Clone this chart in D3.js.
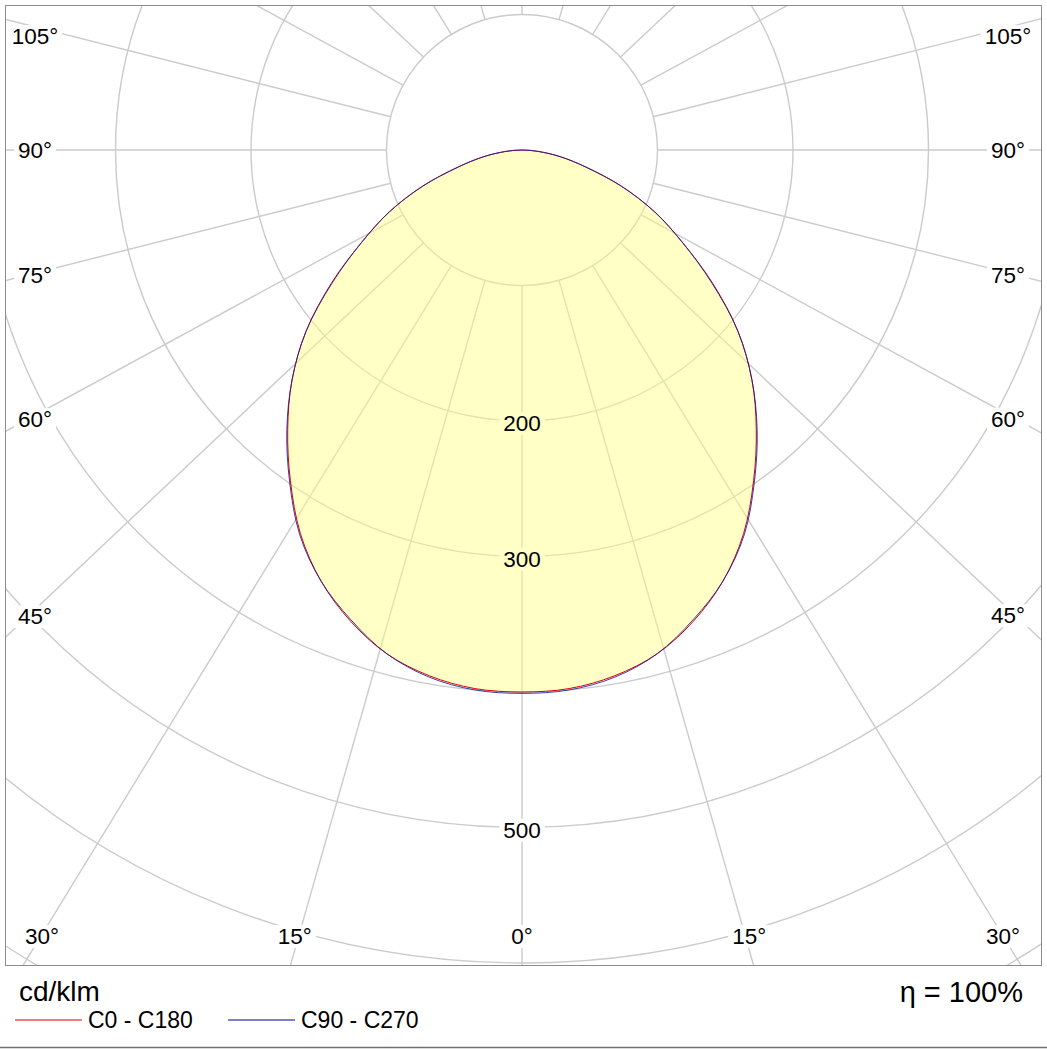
<!DOCTYPE html>
<html>
<head>
<meta charset="utf-8">
<script src="https://cdn.jsdelivr.net/npm/d3@7"></script>
<style>
  body { margin: 0; background: #fff; }
  svg { display: block; font-family: "Liberation Sans", Arial, sans-serif; }
</style>
</head>
<body>
<svg id="chart" width="1047" height="1049"></svg>
<script>
// gamma angles (deg from nadir) and intensities in cd/klm
var gammas = [0,5,10,15,20,25,30,35,40,45,50,55,60,65,70,75,80,85,90,
              95,100,105,110,115,120,125,130,135,140,145,150,155,160,165,170,175,180];
var c0c180 = [400,399,394,385,370,351,327,298,269,240,208,172,137,108,78,49,29,12,0,
              0,0,0,0,0,0,0,0,0,0,0,0,0,0,0,0,0,0];
var c90c270 = [401,400,395,385,369,351,328,299,270,240,208,171,137,108,78,49,29,12,0,
               0,0,0,0,0,0,0,0,0,0,0,0,0,0,0,0,0,0];

var circleTicks = [100,200,300,400,500,600,700];
var circleLabels = [200,300,500];
var rayAngles = [0,15,30,45,60,75,90,105,120,135,150,165,180];
var sideLabels = [45,60,75,90,105];
var bottomLabels = [0,15,30];

var W = 1047, H = 1049;
var frame = {x0: 5, y0: 5, x1: 1041, y1: 965};
var cx = 522, cy = 150;
var rayAspect = 1.06;  // spokes come out slightly wider than true angle

var svg = d3.select("#chart");
var r = d3.scaleLinear().domain([0,100]).range([0,135.5]);

svg.append("defs").append("clipPath").attr("id","frameclip")
  .append("rect").attr("x",frame.x0).attr("y",frame.y0)
  .attr("width",frame.x1-frame.x0).attr("height",frame.y1-frame.y0);

var g = svg.append("g").attr("clip-path","url(#frameclip)");

//direction of a spoke
function rayDir(a) {
  var t = a*Math.PI/180;
  var dx = rayAspect*Math.sin(t), dy = Math.cos(t);
  var n = Math.sqrt(dx*dx+dy*dy);
  return [dx/n, dy/n];
}

// circles
g.selectAll("circle.grid").data(circleTicks).enter().append("circle")
  .attr("class","grid")
  .attr("cx",cx).attr("cy",cy).attr("r",function(d){return r(d);})
  .attr("fill","none").attr("stroke","#cbcbcb").attr("stroke-width",1.4);

// spokes, both sides
var spokes = [];
rayAngles.forEach(function(a){
  spokes.push(a);
  if (a > 0 && a < 180) spokes.push(-a);
});
g.selectAll("line.spoke").data(spokes).enter().append("line")
  .attr("class","spoke")
  .attr("x1",function(a){return cx + r(100)*rayDir(a)[0];})
  .attr("y1",function(a){return cy + r(100)*rayDir(a)[1];})
  .attr("x2",function(a){return cx + 1600*rayDir(a)[0];})
  .attr("y2",function(a){return cy + 1600*rayDir(a)[1];})
  .attr("stroke","#cbcbcb").attr("stroke-width",1.4);

// label positions: where the spoke meets an inset box
var labels = [];
sideLabels.forEach(function(a){
  [-1,1].forEach(function(s){
    var d = rayDir(a);
    var x = s < 0 ? 35 : 1008;
    var xr = s < 0 ? 28 : 1015;
    var y = cy + (Math.abs(xr-cx)/Math.abs(d[0]))*d[1];
    y = Math.max(36, y);
    labels.push({x: x, y: y, text: a + "°"});
  });
});
bottomLabels.forEach(function(a){
  [-1,1].forEach(function(s){
    if (a === 0 && s > 0) return;
    var d = rayDir(a);
    var x = cx + s*((950-cy)/d[1])*Math.abs(d[0]);
    x = Math.min(1003, Math.max(42, x));
    labels.push({x: x, y: 936, text: a + "°"});
  });
});
circleLabels.forEach(function(v){
  labels.push({x: cx, y: cy + r(v) + 2, text: String(v)});
});

var fs = 22.5;
var lbBg = svg.append("g");
var lbText;

// intensity curve points
function pts(vals) {
  var p = [];
  gammas.forEach(function(gm,i){ p.push([gm, vals[i]]); });
  for (var i = gammas.length-2; i > 0; i--) p.push([-gammas[i], vals[i]]);
  var out = [];
  p.forEach(function(d){
    var t = d[0]*Math.PI/180, rr = r(d[1]);
    var q = [Math.round((Math.sin(t)*rr)*100)/100, Math.round((Math.cos(t)*rr)*100)/100];
    var last = out[out.length-1];
    if (!last || last.px[0] !== q[0] || last.px[1] !== q[1]) out.push({g: d[0], v: d[1], px: q});
  });
  return out;
}

var radial = d3.lineRadial()
  .angle(function(d){ return Math.PI - d.g*Math.PI/180; })
  .radius(function(d){ return r(d.v); })
  .curve(d3.curveCatmullRomClosed);

var curves = svg.append("g").attr("transform","translate("+cx+","+cy+")");

// text first to measure, backgrounds drawn behind
lbText = svg.append("g").attr("font-size",fs).attr("fill","#000").attr("text-anchor","middle");
lbText.selectAll("text").data(labels).enter().append("text")
  .attr("x",function(d){return d.x;}).attr("y",function(d){return d.y;})
  .attr("dy","0.36em").text(function(d){return d.text;})
  .each(function(d){ d.bb = this.getBBox(); });

lbBg.selectAll("rect").data(labels).enter().append("rect")
  .attr("x",function(d){return d.bb.x-4;}).attr("y",function(d){return d.bb.y+1;})
  .attr("width",function(d){return d.bb.width+8;}).attr("height",function(d){return d.bb.height-2;})
  .attr("fill","#fff");

curves.append("path").attr("d",radial(pts(c0c180)))
  .attr("fill","#ffff80").attr("fill-opacity",0.45).attr("stroke","none");
curves.append("path").attr("d",radial(pts(c0c180)))
  .attr("fill","none").attr("stroke","#dd0000").attr("stroke-width",1);
curves.append("path").attr("d",radial(pts(c90c270)))
  .attr("fill","none").attr("stroke","#1a1aa0").attr("stroke-width",1).attr("stroke-opacity",0.85);

lbText.raise();

// frame
svg.append("rect").attr("x",frame.x0+0.5).attr("y",frame.y0+0.5)
  .attr("width",frame.x1-frame.x0).attr("height",frame.y1-frame.y0)
  .attr("fill","none").attr("stroke","#8c8c8c").attr("stroke-width",1);
svg.append("line").attr("x1",0).attr("x2",W).attr("y1",1047.5).attr("y2",1047.5)
  .attr("stroke","#707070").attr("stroke-width",1.5);

// footer
svg.append("text").attr("x",19).attr("y",1001).attr("font-size",28).text("cd/klm");
svg.append("text").attr("x",1023).attr("y",1002).attr("font-size",29)
  .attr("text-anchor","end").text("η = 100%");

var legend = [{name:"C0 - C180", color:"#dd0000", x:15},
              {name:"C90 - C270", color:"#00008b", x:228}];
var lg = svg.append("g").selectAll("g").data(legend).enter().append("g");
lg.append("line").attr("x1",function(d){return d.x;}).attr("x2",function(d){return d.x+67;})
  .attr("y1",1020).attr("y2",1020).attr("stroke",function(d){return d.color;}).attr("stroke-width",1);
lg.append("text").attr("x",function(d){return d.x+73;}).attr("y",1028)
  .attr("font-size",23).text(function(d){return d.name;});
</script>
</body>
</html>
